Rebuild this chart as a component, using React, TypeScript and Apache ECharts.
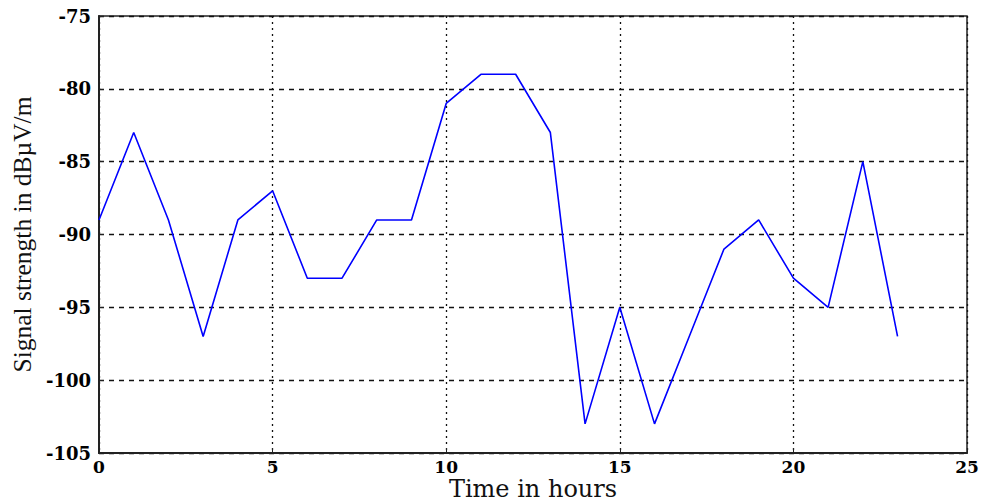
import React, { useEffect, useRef } from "react";
import * as echarts from "echarts";

// Hourly signal strength readings (dBµV/m)
const hours = [0, 1, 2, 3, 4, 5, 6, 7, 8, 9, 10, 11, 12, 13, 14, 15, 16, 17, 18, 19, 20, 21, 22, 23];
const strength = [-89, -83, -89, -97, -89, -87, -93, -93, -89, -89, -81, -79, -79, -83, -103, -95, -103, -97, -91, -89, -93, -95, -85, -97];

const xRange = [0, 25];
const yRange = [-105, -75];
const xStep = 5;
const yStep = 5;

const serif = "'Liberation Serif', 'DejaVu Serif', serif";
const wideSerif = "'DejaVu Serif', 'Liberation Serif', serif";

export default function App() {
  const ref = useRef<HTMLDivElement>(null);

  useEffect(() => {
    if (!ref.current) return;
    const chart = echarts.init(ref.current, undefined, { renderer: "svg" });
    chart.setOption({
      animation: false,
      backgroundColor: "#ffffff",
      grid: {
        left: 99,
        top: 16,
        right: 15,
        bottom: 49,
        outerBoundsMode: "none",
        containLabel: false,
        show: true,
        borderColor: "#222",
        borderWidth: 1.5,
      },
      xAxis: {
        type: "value",
        min: xRange[0],
        max: xRange[1],
        interval: xStep,
        name: "Time in hours",
        nameLocation: "middle",
        nameGap: 24,
        nameMoveOverlap: false,
        nameTextStyle: { fontFamily: wideSerif, fontSize: 24, lineHeight: 24, color: "#111" },
        axisLine: { show: true, onZero: false, lineStyle: { color: "#222", width: 2 } },
        axisTick: { show: true, inside: true, length: 5, lineStyle: { color: "#222" } },
        axisLabel: { fontFamily: wideSerif, fontWeight: "bold", fontSize: 17, lineHeight: 17, color: "#000", margin: 5 },
        splitLine: { show: true, lineStyle: { color: "#111", type: [2, 4], width: 1.3 } },
      },
      yAxis: {
        type: "value",
        min: yRange[0],
        max: yRange[1],
        interval: yStep,
        name: "Signal strength in dBµV/m",
        nameLocation: "middle",
        nameGap: 64,
        nameMoveOverlap: false,
        nameTextStyle: { fontFamily: serif, fontSize: 25.5, color: "#111" },
        axisLine: { show: true, lineStyle: { color: "#222", width: 2 } },
        axisTick: { show: true, inside: true, length: 5, lineStyle: { color: "#222" } },
        axisLabel: { fontFamily: wideSerif, fontWeight: "bold", fontSize: 18, color: "#000", margin: 8 },
        splitLine: { show: true, lineStyle: { color: "#111", type: [5, 5], width: 1.3 } },
      },
      series: [
        {
          type: "line",
          data: hours.map((h, i) => [h, strength[i]]),
          showSymbol: false,
          lineStyle: { color: "#0000ff", width: 1.6 },
          itemStyle: { color: "#0000ff" },
        },
      ],
    });
    return () => chart.dispose();
  }, []);

  return <div ref={ref} style={{ width: 982, height: 502, position: "absolute", left: 0, top: 0 }} />;
}
